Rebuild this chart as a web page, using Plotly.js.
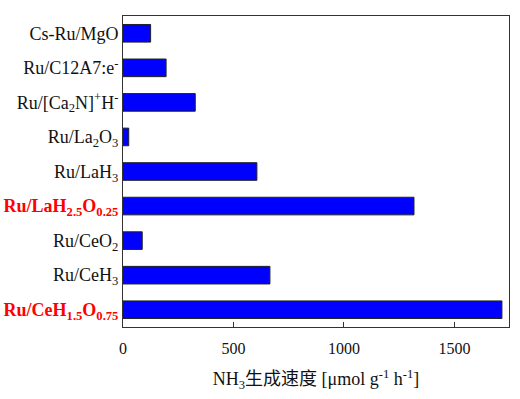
<!DOCTYPE html>
<html>
<head>
<meta charset="utf-8">
<script src="https://cdn.plot.ly/plotly-3.0.1.min.js"></script>
<style>html,body{margin:0;padding:0;background:#fff}</style>
</head>
<body>
<div id="chart" style="width:520px;height:399px"></div>
<script>
const categories = [
  "Cs-Ru/MgO",
  "Ru/C12A7:e<sup>-</sup>",
  "Ru/[Ca<sub>2</sub>N]<sup>+</sup>H<sup>-</sup>",
  "Ru/La<sub>2</sub>O<sub>3</sub>",
  "Ru/LaH<sub>3</sub>",
  "<b><span style='color:#ff0000'>Ru/LaH<sub>2.5</sub>O<sub>0.25</sub></span></b>",
  "Ru/CeO<sub>2</sub>",
  "Ru/CeH<sub>3</sub>",
  "<b><span style='color:#ff0000'>Ru/CeH<sub>1.5</sub>O<sub>0.75</sub></span></b>"
];
const rates = [125, 195, 327, 26, 606, 1317, 87, 665, 1715];
const xTickVals = [0, 500, 1000, 1500];
const xTitle = "NH<sub>3</sub>生成速度 [μmol g<sup>-1</sup> h<sup>-1</sup>]";

const serif = "Liberation Serif, Noto Sans CJK SC, serif";

Plotly.newPlot("chart", [{
  type: "bar",
  orientation: "h",
  x: rates,
  y: categories.map((c, i) => i),
  width: 0.51,
  marker: {color: "#0000ff", line: {color: "#222222", width: 1}},
  hoverinfo: "x"
}], {
  width: 520, height: 399,
  margin: {l: 123, r: 11, t: 16, b: 72},
  paper_bgcolor: "#fff", plot_bgcolor: "#fff",
  showlegend: false,
  font: {family: serif, color: "#111"},
  xaxis: {
    range: [0, 1747],
    tickvals: xTickVals,
    ticks: "inside", ticklen: 5, tickcolor: "#333",
    ticklabelstandoff: 7,
    showline: true, linecolor: "#333", linewidth: 1, mirror: true,
    showgrid: false, zeroline: false,
    tickfont: {size: 16, family: serif, color: "#111"},
    title: {text: xTitle, font: {size: 18, family: serif, color: "#111"}, standoff: 16}
  },
  yaxis: {
    range: [8.5, -0.5],
    tickvals: categories.map((c, i) => i),
    ticktext: categories,
    ticks: "",
    showline: true, linecolor: "#333", linewidth: 1, mirror: true,
    showgrid: false, zeroline: false,
    tickfont: {size: 18, family: serif, color: "#111"}
  }
}, {displayModeBar: false, staticPlot: true});
</script>
</body>
</html>
